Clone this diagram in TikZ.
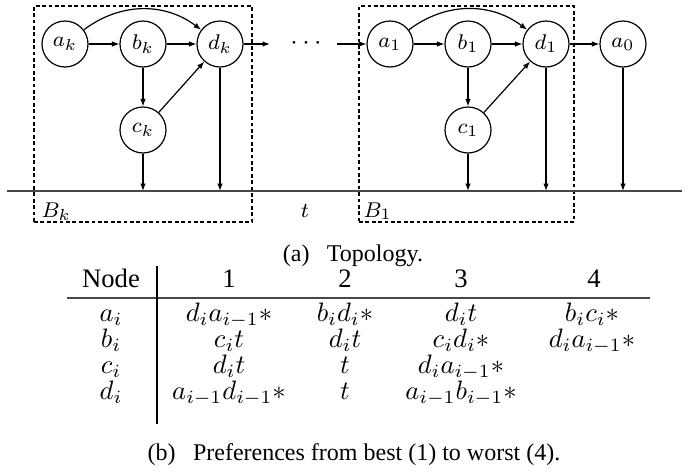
\documentclass[tikz,border=0pt]{standalone}
\usepackage{fontspec}
\setmainfont{Liberation Serif}
\usetikzlibrary{arrows.meta}
\begin{document}
\begin{tikzpicture}[x=0.375pt,y=-0.375pt,
  vtx/.style={circle,draw,line width=0.45pt,minimum size=17.25pt,inner sep=0pt,font=\fontsize{8.5}{10}\selectfont},
  arr/.style={-{Latex[length=2.8pt,width=2.1pt]},line width=0.45pt},
  grp/.style={draw,line width=0.45pt,dash pattern=on 1.4pt off 1pt,inner sep=0pt},
  sinkline/.style={line width=0.8pt,draw=black!72},
  lbl/.style={font=\fontsize{8.5}{10}\selectfont,inner sep=0pt},
  cell/.style={anchor=base,inner sep=0pt,font=\fontsize{10}{12}\selectfont},
  captxt/.style={anchor=base,inner sep=0pt,font=\fontsize{9}{11}\selectfont}]
\useasboundingbox (0,0) rectangle (700,472);

% group boxes
\node[grp,minimum width=81.75pt,minimum height=81pt] (Bk) at (143,114) {};
\node[grp,minimum width=80.6pt,minimum height=81pt] (B1) at (466.5,114) {};

% vertices
\node[vtx] (ak) at (65,44) {$a_k$};
\node[vtx] (bk) at (143,44) {$b_k$};
\node[vtx] (dk) at (220,44) {$d_k$};
\node[vtx] (ck) at (143,130) {$c_k$};
\node[vtx] (a1) at (390,44) {$a_1$};
\node[vtx] (b1) at (468,44) {$b_1$};
\node[vtx] (d1) at (546,44) {$d_1$};
\node[vtx] (c1) at (468,130) {$c_1$};
\node[vtx] (a0) at (623,44) {$a_0$};

% sink line
\coordinate (tl) at (7,191);
\coordinate (tr) at (682,191);
\draw[sinkline] (tl) -- (tr);

% dots
\node[inner sep=0pt,font=\fontsize{10}{12}\selectfont] (dots) at (306,44) {$\cdots$};
\coordinate (dkout) at (270,44);
\coordinate (a1in) at (337,44);

% edges block k
\draw[arr] (ak) -- (bk);
\draw[arr] (bk) -- (dk);
\draw[arr] (ak) to[bend left=37] (dk);
\draw[arr] (bk) -- (ck);
\draw[arr] (ck) -- (dk);
\draw[arr] (ck) -- (ck |- tl);
\draw[arr] (dk) -- (dk |- tl);
\draw[arr] (dk) -- (dkout);
\draw[arr] (a1in) -- (a1);

% edges block 1
\draw[arr] (a1) -- (b1);
\draw[arr] (b1) -- (d1);
\draw[arr] (a1) to[bend left=37] (d1);
\draw[arr] (b1) -- (c1);
\draw[arr] (c1) -- (d1);
\draw[arr] (c1) -- (c1 |- tl);
\draw[arr] (d1) -- (d1 |- tl);
\draw[arr] (d1) -- (a0);
\draw[arr] (a0) -- (a0 |- tl);

% labels
\node[lbl,anchor=base west] (Bklab) at (41,217) {$B_k$};
\node[lbl,anchor=base west] (B1lab) at (363,217) {$B_1$};
\node[lbl,anchor=base] (tlab) at (305,217) {$t$};

% caption a
\node[captxt] (capa) at (353,261) {(a)\hspace{6.5pt}Topology.};

% table
\node[cell] (h0) at (111,287) {Node};
\node[cell] (h1) at (229,287) {1};
\node[cell] (h2) at (345,287) {2};
\node[cell] (h3) at (461,287) {3};
\node[cell] (h4) at (594,287) {4};
\coordinate (rl) at (67,298);
\coordinate (rr) at (650,298);
\draw[line width=0.8pt,draw=black!72] (rl) -- (rr);
\coordinate (vt) at (157,266);
\coordinate (vb) at (157,424);
\draw[line width=0.45pt] (vt) -- (vb);

\node[cell] (ra0) at (111,321) {$a_i$};
\node[cell] (ra1) at (229,321) {$d_ia_{i-1}*$};
\node[cell] (ra2) at (345,321) {$b_id_i*$};
\node[cell] (ra3) at (461,321) {$d_it$};
\node[cell] (ra4) at (592,321) {$b_ic_i*$};

\node[cell] (rb0) at (111,347) {$b_i$};
\node[cell] (rb1) at (229,347) {$c_it$};
\node[cell] (rb2) at (345,347) {$d_it$};
\node[cell] (rb3) at (461,347) {$c_id_i*$};
\node[cell] (rb4) at (592,347) {$d_ia_{i-1}*$};

\node[cell] (rc0) at (111,373) {$c_i$};
\node[cell] (rc1) at (229,373) {$d_it$};
\node[cell] (rc2) at (345,373) {$t$};
\node[cell] (rc3) at (461,373) {$d_ia_{i-1}*$};

\node[cell] (rd0) at (111,399) {$d_i$};
\node[cell] (rd1) at (229,399) {$a_{i-1}d_{i-1}*$};
\node[cell] (rd2) at (345,399) {$t$};
\node[cell] (rd3) at (461,399) {$a_{i-1}b_{i-1}*$};

% caption b
\node[captxt] (capb) at (354,460) {(b)\hspace{6.5pt}Preferences from best (1) to worst (4).};
\end{tikzpicture}
\end{document}
